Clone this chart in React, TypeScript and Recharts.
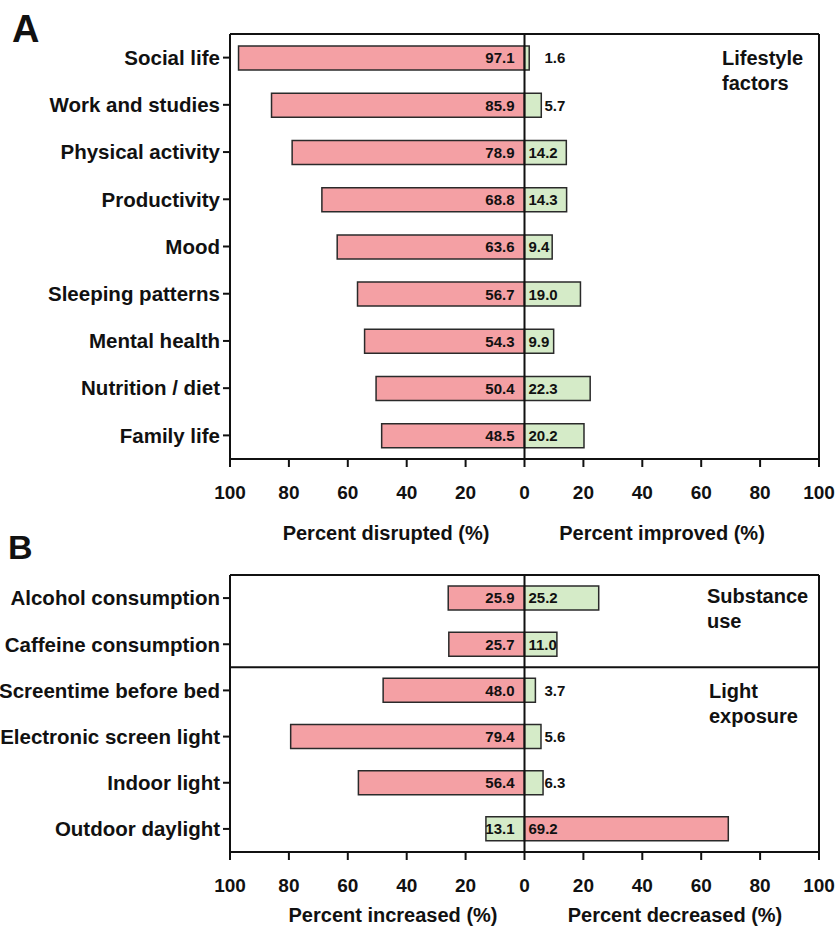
import React from "react";
import {
  BarChart,
  Bar,
  XAxis,
  YAxis,
  Cell,
  LabelList,
  ReferenceLine,
} from "recharts";

// Panel A: lifestyle factors
const lifestyleFactors = [
  "Social life",
  "Work and studies",
  "Physical activity",
  "Productivity",
  "Mood",
  "Sleeping patterns",
  "Mental health",
  "Nutrition / diet",
  "Family life",
];
const disruptedPct = [97.1, 85.9, 78.9, 68.8, 63.6, 56.7, 54.3, 50.4, 48.5];
const improvedPct = [1.6, 5.7, 14.2, 14.3, 9.4, 19.0, 9.9, 22.3, 20.2];

// Panel B: substance use + light exposure
const behaviours = [
  "Alcohol consumption",
  "Caffeine consumption",
  "Screentime before bed",
  "Electronic screen light",
  "Indoor light",
  "Outdoor daylight",
];
const increasedPct = [25.9, 25.7, 48.0, 79.4, 56.4, 13.1];
const decreasedPct = [25.2, 11.0, 3.7, 5.6, 6.3, 69.2];
// for outdoor daylight a decrease is the harmful direction
const decreaseIsHarmful = [false, false, false, false, false, true];

const xTicks = [-100, -80, -60, -40, -20, 0, 20, 40, 60, 80, 100];

const PINK = "#f4a0a4";
const GREEN = "#d5ebc8";
const EDGE = "#2a2a2a";
const FONT = "'Liberation Sans', Arial, Helvetica, sans-serif";

type Row = { name: string; left: number; right: number; leftBad: boolean };

const rowsA: Row[] = lifestyleFactors.map((name, i) => ({
  name,
  left: -disruptedPct[i],
  right: improvedPct[i],
  leftBad: true,
}));

const rowsB: Row[] = behaviours.map((name, i) => ({
  name,
  left: -increasedPct[i],
  right: decreasedPct[i],
  leftBad: !decreaseIsHarmful[i],
}));

const XTick = (props: any) => {
  const { x, y, payload } = props;
  return (
    <text
      x={x}
      y={y + 25}
      dy="0.35em"
      textAnchor="middle"
      fontFamily={FONT}
      fontWeight="bold"
      fontSize={19}
      fill="#111"
    >
      {Math.abs(payload.value)}
    </text>
  );
};

const LeftLabel = (props: any) => {
  const { x, y, width, height, value } = props;
  const zero = Math.max(x, x + width);
  return (
    <text
      x={zero - 10}
      y={y + height / 2}
      dy="0.36em"
      textAnchor="end"
      fontFamily={FONT}
      fontWeight="bold"
      fontSize={15}
      fill="#111"
    >
      {Math.abs(value).toFixed(1)}
    </text>
  );
};

const RightLabel = (props: any) => {
  const { x, y, width, height, value } = props;
  const zero = Math.min(x, x + width);
  const v = Math.abs(value);
  const lx = v < 8 ? zero + 20 : zero + 4;
  return (
    <text
      x={lx}
      y={y + height / 2}
      dy="0.36em"
      textAnchor="start"
      fontFamily={FONT}
      fontWeight="bold"
      fontSize={15}
      fill="#111"
    >
      {v.toFixed(1)}
    </text>
  );
};

function Panel({
  rows,
  height,
  top,
  marginTop,
  divider,
}: {
  rows: Row[];
  height: number;
  top: number;
  marginTop: number;
  divider?: string;
}) {
  return (
    <div style={{ position: "absolute", left: 0, top }}>
      <BarChart
        width={836}
        height={height}
        data={rows}
        layout="vertical"
        stackOffset="sign"
        barSize={24}
        margin={{ top: marginTop, right: 17, bottom: 0, left: 0 }}
      >
        <XAxis
          type="number"
          domain={[-100, 100]}
          ticks={xTicks}
          interval={0}
          height={50}
          tickSize={8}
          tickMargin={0}
          tick={<XTick />}
          axisLine={{ stroke: "#111", strokeWidth: 2 }}
          tickLine={{ stroke: "#111", strokeWidth: 2 }}
        />
        <YAxis
          type="category"
          dataKey="name"
          width={230}
          tickSize={7}
          tickMargin={3}
          interval={0}
          axisLine={{ stroke: "#111", strokeWidth: 2 }}
          tickLine={{ stroke: "#111", strokeWidth: 2 }}
          tick={{
            fontFamily: FONT,
            fontWeight: "bold",
            fontSize: 20.5,
            fill: "#111",
          }}
        />
        <Bar
          dataKey="left"
          stackId="s"
          stroke={EDGE}
          strokeWidth={1.5}
          isAnimationActive={false}
        >
          {rows.map((r) => (
            <Cell key={r.name} fill={r.leftBad ? PINK : GREEN} />
          ))}
          <LabelList dataKey="left" content={<LeftLabel />} />
        </Bar>
        <Bar
          dataKey="right"
          stackId="s"
          stroke={EDGE}
          strokeWidth={1.5}
          isAnimationActive={false}
        >
          {rows.map((r) => (
            <Cell key={r.name} fill={r.leftBad ? GREEN : PINK} />
          ))}
          <LabelList dataKey="right" content={<RightLabel />} />
        </Bar>
        <ReferenceLine x={0} stroke="#111" strokeWidth={2} />
        <ReferenceLine x={100} stroke="#111" strokeWidth={2} />
        <ReferenceLine
          y={rows[0].name}
          position="start"
          stroke="#111"
          strokeWidth={2}
        />
        {divider && (
          <ReferenceLine
            y={divider}
            position="start"
            stroke="#111"
            strokeWidth={2}
          />
        )}
      </BarChart>
    </div>
  );
}

const textStyle: React.CSSProperties = {
  position: "absolute",
  fontFamily: FONT,
  fontWeight: "bold",
  color: "#111",
  whiteSpace: "nowrap",
};

function Title({ cx, cy, children }: { cx: number; cy: number; children: React.ReactNode }) {
  return (
    <div
      style={{
        ...textStyle,
        left: cx,
        top: cy,
        fontSize: 20,
        lineHeight: "24px",
        transform: "translate(-50%, -50%)",
      }}
    >
      {children}
    </div>
  );
}

function Note({ left, top, lines }: { left: number; top: number; lines: string[] }) {
  return (
    <div style={{ ...textStyle, left, top, fontSize: 20, lineHeight: "25px" }}>
      {lines.map((l) => (
        <div key={l}>{l}</div>
      ))}
    </div>
  );
}

export default function App() {
  return (
    <div
      style={{
        position: "absolute",
        left: 0,
        top: 0,
        width: 836,
        height: 927,
        background: "#fff",
        overflow: "hidden",
      }}
    >
      <Panel rows={rowsA} height={509} top={0} marginTop={34} />
      <Panel
        rows={rowsB}
        height={362}
        top={540}
        marginTop={35}
        divider="Screentime before bed"
      />

      <div style={{ ...textStyle, left: 12, top: 10, fontSize: 38, lineHeight: "38px" }}>A</div>
      <div style={{ ...textStyle, left: 8, top: 530, fontSize: 34, lineHeight: "34px" }}>B</div>

      <Note left={722} top={46} lines={["Lifestyle", "factors"]} />
      <Note left={707} top={584} lines={["Substance", "use"]} />
      <Note left={709} top={679} lines={["Light", "exposure"]} />

      <Title cx={386} cy={533}>Percent disrupted (%)</Title>
      <Title cx={662} cy={533}>Percent improved (%)</Title>
      <Title cx={393} cy={915}>Percent increased (%)</Title>
      <Title cx={675} cy={915}>Percent decreased (%)</Title>
    </div>
  );
}
